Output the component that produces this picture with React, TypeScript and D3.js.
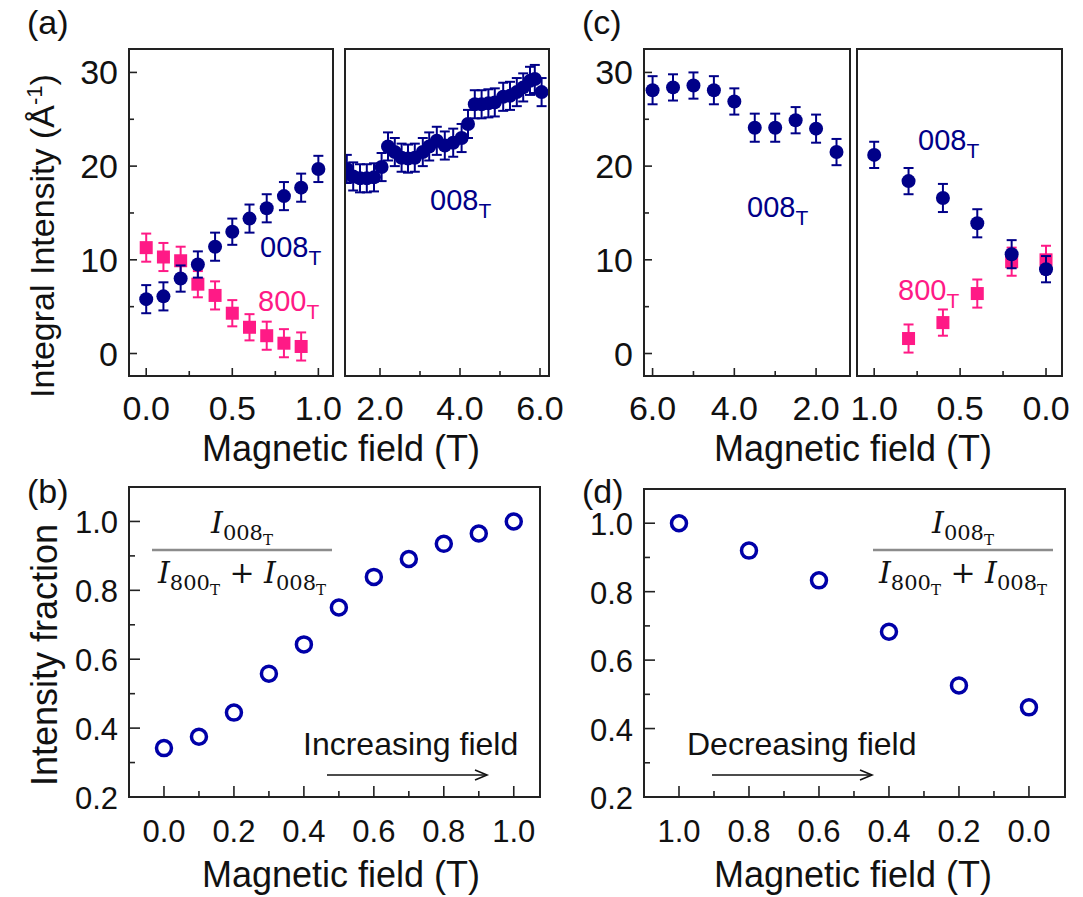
import React from "react";
import * as d3 from "d3";

// ---- data ----
// (a) increasing field, low-field part
const fieldA1 = [0, 0.1, 0.2, 0.3, 0.4, 0.5, 0.6, 0.7, 0.8, 0.9, 1.0];
const i008A1 = [5.8, 6.1, 8.0, 9.5, 11.4, 13.0, 14.4, 15.5, 16.8, 17.7, 19.7];
const e008A1 = [1.5, 1.5, 1.4, 1.4, 1.5, 1.4, 1.5, 1.5, 1.5, 1.5, 1.4];
const field800A1 = [0, 0.1, 0.2, 0.3, 0.4, 0.5, 0.6, 0.7, 0.8, 0.9];
const i800A1 = [11.3, 10.3, 9.9, 7.4, 6.2, 4.3, 2.8, 1.9, 1.1, 0.75];
const e800A1 = [1.5, 1.5, 1.5, 1.4, 1.5, 1.4, 1.4, 1.5, 1.5, 1.5];

// (a) increasing field, high-field part
const fieldA2 = [1.17, 1.33, 1.5, 1.67, 1.85, 2.04, 2.2, 2.37, 2.54, 2.7, 2.87, 3.07, 3.23, 3.42, 3.62,
  3.83, 4.04, 4.2, 4.37, 4.54, 4.71, 4.87, 5.08, 5.25, 5.42, 5.58, 5.75, 5.87, 6.04];
const i008A2 = [19.7, 18.9, 18.7, 18.7, 18.8, 19.9, 22.1, 21.5, 20.9, 20.8, 20.9, 21.5, 22.1, 22.7, 22.2,
  22.5, 23.0, 24.5, 26.6, 26.6, 26.7, 26.8, 27.4, 27.5, 27.9, 28.4, 29.1, 29.3, 27.9];
const e008A2 = 1.5;

// (c) decreasing field, high-field part
const fieldC1 = [6.0, 5.5, 5.0, 4.5, 4.0, 3.5, 3.0, 2.5, 2.0, 1.5];
const i008C1 = [28.1, 28.4, 28.6, 28.1, 26.9, 24.1, 24.1, 24.9, 24.0, 21.5];
const e008C1 = [1.5, 1.4, 1.4, 1.5, 1.4, 1.5, 1.5, 1.4, 1.5, 1.4];

// (c) decreasing field, low-field part
const fieldC2 = [1.0, 0.8, 0.6, 0.4, 0.2, 0.0];
const i008C2 = [21.2, 18.4, 16.6, 13.9, 10.6, 9.0];
const e008C2 = [1.4, 1.4, 1.5, 1.5, 1.5, 1.4];
const field800C2 = [0.8, 0.6, 0.4, 0.2, 0.0];
const i800C2 = [1.6, 3.3, 6.4, 9.8, 10.0];
const e800C2 = [1.5, 1.4, 1.5, 1.5, 1.5];

// (b), (d) intensity fraction
const fieldB = [0, 0.1, 0.2, 0.3, 0.4, 0.5, 0.6, 0.7, 0.8, 0.9, 1.0];
const fracB = [0.342, 0.375, 0.445, 0.558, 0.643, 0.75, 0.839, 0.891, 0.935, 0.965, 1.0];
const fieldD = [1.0, 0.8, 0.6, 0.4, 0.2, 0.0];
const fracD = [1.0, 0.92, 0.833, 0.683, 0.526, 0.462];

// ticks
const intTicks = [0, 10, 20, 30];
const intMinor = [5, 15, 25];
const lowTicks = [0, 0.5, 1.0];
const lowMinor = [0.25, 0.75];
const highTicks = [2, 4, 6];
const highMinor = [3, 5];
const fracTicks = [0.2, 0.4, 0.6, 0.8, 1.0];
const fracMinor = [0.3, 0.5, 0.7, 0.9];
const fieldTicks = [0, 0.2, 0.4, 0.6, 0.8, 1.0];
const fieldMinor = [0.1, 0.3, 0.5, 0.7, 0.9];

const NAVY = "#000088";
const PINK = "#ff1a86";
const FONT = "'Liberation Sans', Arial, sans-serif";
const SERIF = "'DejaVu Serif', serif";

// ---- scales ----
const yInt = d3.scaleLinear().domain([-2.4, 32.5]).range([376, 49]);
const xA1 = d3.scaleLinear().domain([-0.1, 1.085]).range([129, 333]);
const xA2 = d3.scaleLinear().domain([1.125, 6.225]).range([345, 549]);
const xC1 = d3.scaleLinear().domain([6.21, 1.17]).range([644, 850]);
const xC2 = d3.scaleLinear().domain([1.1, -0.093]).range([857, 1062]);
const xB = d3.scaleLinear().domain([-0.1, 1.075]).range([129, 540]);
const yB = d3.scaleLinear().domain([0.2, 1.1]).range([797, 487]);
const xD = d3.scaleLinear().domain([1.1, -0.103]).range([644, 1065]);
const yD = d3.scaleLinear().domain([0.2, 1.1]).range([797, 489]);

type S = d3.ScaleLinear<number, number>;

function Frame({ id, x, y, xt, xm, yt, ym, fmtX, fmtY, big, children }: {
  id: string; x: S; y: S; xt: number[]; xm: number[]; yt?: number[]; ym?: number[];
  fmtX: (v: number) => string; fmtY?: (v: number) => string; big?: boolean; children?: React.ReactNode;
}) {
  const [x0, x1] = x.range();
  const [y1, y0] = y.range();
  const left = Math.min(x0, x1), right = Math.max(x0, x1);
  const maj = big ? 11 : 8, min = big ? 6 : 5;
  const tickFs = big ? 31 : 34;
  return (
    <g>
      <defs>
        <clipPath id={id}><rect x={left} y={y0} width={right - left} height={y1 - y0} /></clipPath>
      </defs>
      <g clipPath={`url(#${id})`}>{children}</g>
      <rect x={left} y={y0} width={right - left} height={y1 - y0} fill="none" stroke="#222" strokeWidth={2} />
      {xt.map(v => <line key={"xt" + v} x1={x(v)} x2={x(v)} y1={y1} y2={y1 - maj} stroke="#222" strokeWidth={1.6} />)}
      {xm.map(v => <line key={"xm" + v} x1={x(v)} x2={x(v)} y1={y1} y2={y1 - min} stroke="#222" strokeWidth={1.6} />)}
      {xt.map(v => (
        <text key={"xl" + v} x={x(v)} y={y1 + (big ? 45 : 44)} textAnchor="middle" fontSize={tickFs}
          fontFamily={FONT} fill="#111">{fmtX(v)}</text>
      ))}
      {(yt || []).map(v => <line key={"yt" + v} x1={left} x2={left + maj} y1={y(v)} y2={y(v)} stroke="#222" strokeWidth={1.6} />)}
      {(ym || []).map(v => <line key={"ym" + v} x1={left} x2={left + min} y1={y(v)} y2={y(v)} stroke="#222" strokeWidth={1.6} />)}
      {fmtY && (yt || []).map(v => (
        <text key={"yl" + v} x={left - 11} y={y(v) + 12} textAnchor="end" fontSize={tickFs}
          fontFamily={FONT} fill="#111">{fmtY(v)}</text>
      ))}
    </g>
  );
}

function ErrPoints({ xs, ys, es, x, shape, color }: {
  xs: number[]; ys: number[]; es: number[] | number; x: S; shape: "circle" | "square"; color: string;
}) {
  return (
    <g>
      {xs.map((xv, i) => {
        const e = Array.isArray(es) ? es[i] : es;
        const cx = x(xv), cy = yInt(ys[i]);
        const top = yInt(ys[i] + e), bot = yInt(ys[i] - e);
        return (
          <g key={i}>
            <line x1={cx} x2={cx} y1={top} y2={bot} stroke={color} strokeWidth={2} />
            <line x1={cx - 5} x2={cx + 5} y1={top} y2={top} stroke={color} strokeWidth={2} />
            <line x1={cx - 5} x2={cx + 5} y1={bot} y2={bot} stroke={color} strokeWidth={2} />
            {shape === "circle"
              ? <circle cx={cx} cy={cy} r={7} fill={color} />
              : <rect x={cx - 6.5} y={cy - 6.5} width={13} height={13} fill={color} />}
          </g>
        );
      })}
    </g>
  );
}

function Label({ x, y, text, color }: { x: number; y: number; text: string; color: string }) {
  return (
    <text x={x} y={y} fontSize={29} fontFamily={FONT} fill={color}>
      {text}<tspan dy={8} fontSize={21}>T</tspan>
    </text>
  );
}

function Fraction({ cx, x0, x1 }: { cx: number; x0: number; x1: number }) {
  return (
    <g fontFamily={SERIF} fill="#111">
      <text x={cx} y={533} textAnchor="middle" fontSize={30}>
        <tspan fontStyle="italic">I</tspan>
        <tspan dy={7} fontSize={21}>008</tspan>
        <tspan dy={5} fontSize={15}>T</tspan>
      </text>
      <line x1={x0} x2={x1} y1={550} y2={550} stroke="#8c8c8c" strokeWidth={2.5} />
      <text x={cx} y={583} textAnchor="middle" fontSize={30}>
        <tspan fontStyle="italic">I</tspan>
        <tspan dy={7} fontSize={21}>800</tspan>
        <tspan dy={5} fontSize={15}>T</tspan>
        <tspan dy={-12}>{" + "}</tspan>
        <tspan fontStyle="italic">I</tspan>
        <tspan dy={7} fontSize={21}>008</tspan>
        <tspan dy={5} fontSize={15}>T</tspan>
      </text>
    </g>
  );
}

function Arrow({ x0, x1, y }: { x0: number; x1: number; y: number }) {
  return (
    <g stroke="#111" strokeWidth={1.6} fill="none">
      <line x1={x0} x2={x1} y1={y} y2={y} />
      <path d={`M${x1 - 12},${y - 5} L${x1},${y} L${x1 - 12},${y + 5}`} />
    </g>
  );
}

const f1 = d3.format(".1f");
const f0 = d3.format("d");

export default function App() {
  return (
    <div style={{ position: "absolute", left: 0, top: 0 }}>
      <svg width={1083} height={897} style={{ display: "block", background: "#fff" }}>
        {/* panel letters */}
        <g fontFamily={FONT} fontSize={34} fill="#111">
          <text x={27} y={34}>(a)</text>
          <text x={27} y={503}>(b)</text>
          <text x={582} y={34}>(c)</text>
          <text x={582} y={503}>(d)</text>
        </g>

        {/* y titles */}
        <text transform="translate(54,236) rotate(-90)" textAnchor="middle" fontFamily={FONT} fontSize={34} fill="#111">
          Integral Intensity (Å<tspan dy={-12} fontSize={22}>-1</tspan><tspan dy={12}>)</tspan>
        </text>
        <text transform="translate(57,655) rotate(-90)" textAnchor="middle" fontFamily={FONT} fontSize={36} fill="#111">
          Intensity fraction
        </text>

        {/* x titles */}
        <g fontFamily={FONT} fontSize={36} fill="#111" textAnchor="middle">
          <text x={341} y={461}>Magnetic field (T)</text>
          <text x={853} y={461}>Magnetic field (T)</text>
          <text x={341} y={887}>Magnetic field (T)</text>
          <text x={853} y={887}>Magnetic field (T)</text>
        </g>

        {/* (a) */}
        <Frame id="cA1" x={xA1} y={yInt} xt={lowTicks} xm={lowMinor} yt={intTicks} ym={intMinor} fmtX={f1} fmtY={f0}>
          <ErrPoints xs={field800A1} ys={i800A1} es={e800A1} x={xA1} shape="square" color={PINK} />
          <ErrPoints xs={fieldA1} ys={i008A1} es={e008A1} x={xA1} shape="circle" color={NAVY} />
        </Frame>
        <Frame id="cA2" x={xA2} y={yInt} xt={highTicks} xm={highMinor} fmtX={f1}>
          <ErrPoints xs={fieldA2} ys={i008A2} es={e008A2} x={xA2} shape="circle" color={NAVY} />
        </Frame>
        <Label x={260} y={257} text="008" color={NAVY} />
        <Label x={258} y={311} text="800" color={PINK} />
        <Label x={430} y={210} text="008" color={NAVY} />

        {/* (c) */}
        <Frame id="cC1" x={xC1} y={yInt} xt={highTicks} xm={highMinor} yt={intTicks} ym={intMinor} fmtX={f1} fmtY={f0}>
          <ErrPoints xs={fieldC1} ys={i008C1} es={e008C1} x={xC1} shape="circle" color={NAVY} />
        </Frame>
        <Frame id="cC2" x={xC2} y={yInt} xt={lowTicks} xm={lowMinor} fmtX={f1}>
          <ErrPoints xs={field800C2} ys={i800C2} es={e800C2} x={xC2} shape="square" color={PINK} />
          <ErrPoints xs={fieldC2} ys={i008C2} es={e008C2} x={xC2} shape="circle" color={NAVY} />
        </Frame>
        <Label x={747} y={217} text="008" color={NAVY} />
        <Label x={918} y={150} text="008" color={NAVY} />
        <Label x={898} y={300} text="800" color={PINK} />

        {/* (b) */}
        <Frame id="cB" x={xB} y={yB} xt={fieldTicks} xm={fieldMinor} yt={fracTicks} ym={fracMinor} fmtX={f1} fmtY={f1} big>
          {fieldB.map((v, i) => (
            <circle key={i} cx={xB(v)} cy={yB(fracB[i])} r={7.5} fill="#fff" stroke="#0000a8" strokeWidth={3.5} />
          ))}
        </Frame>
        <Fraction cx={242} x0={152} x1={332} />
        <text x={303} y={755} fontFamily={FONT} fontSize={32} fill="#111">Increasing field</text>
        <Arrow x0={327} x1={487} y={775} />

        {/* (d) */}
        <Frame id="cD" x={xD} y={yD} xt={fieldTicks} xm={fieldMinor} yt={fracTicks} ym={fracMinor} fmtX={f1} fmtY={f1} big>
          {fieldD.map((v, i) => (
            <circle key={i} cx={xD(v)} cy={yD(fracD[i])} r={7.5} fill="#fff" stroke="#0000a8" strokeWidth={3.5} />
          ))}
        </Frame>
        <Fraction cx={963} x0={873} x1={1053} />
        <text x={687} y={755} fontFamily={FONT} fontSize={32} fill="#111">Decreasing field</text>
        <Arrow x0={712} x1={872} y={775} />
      </svg>
    </div>
  );
}
